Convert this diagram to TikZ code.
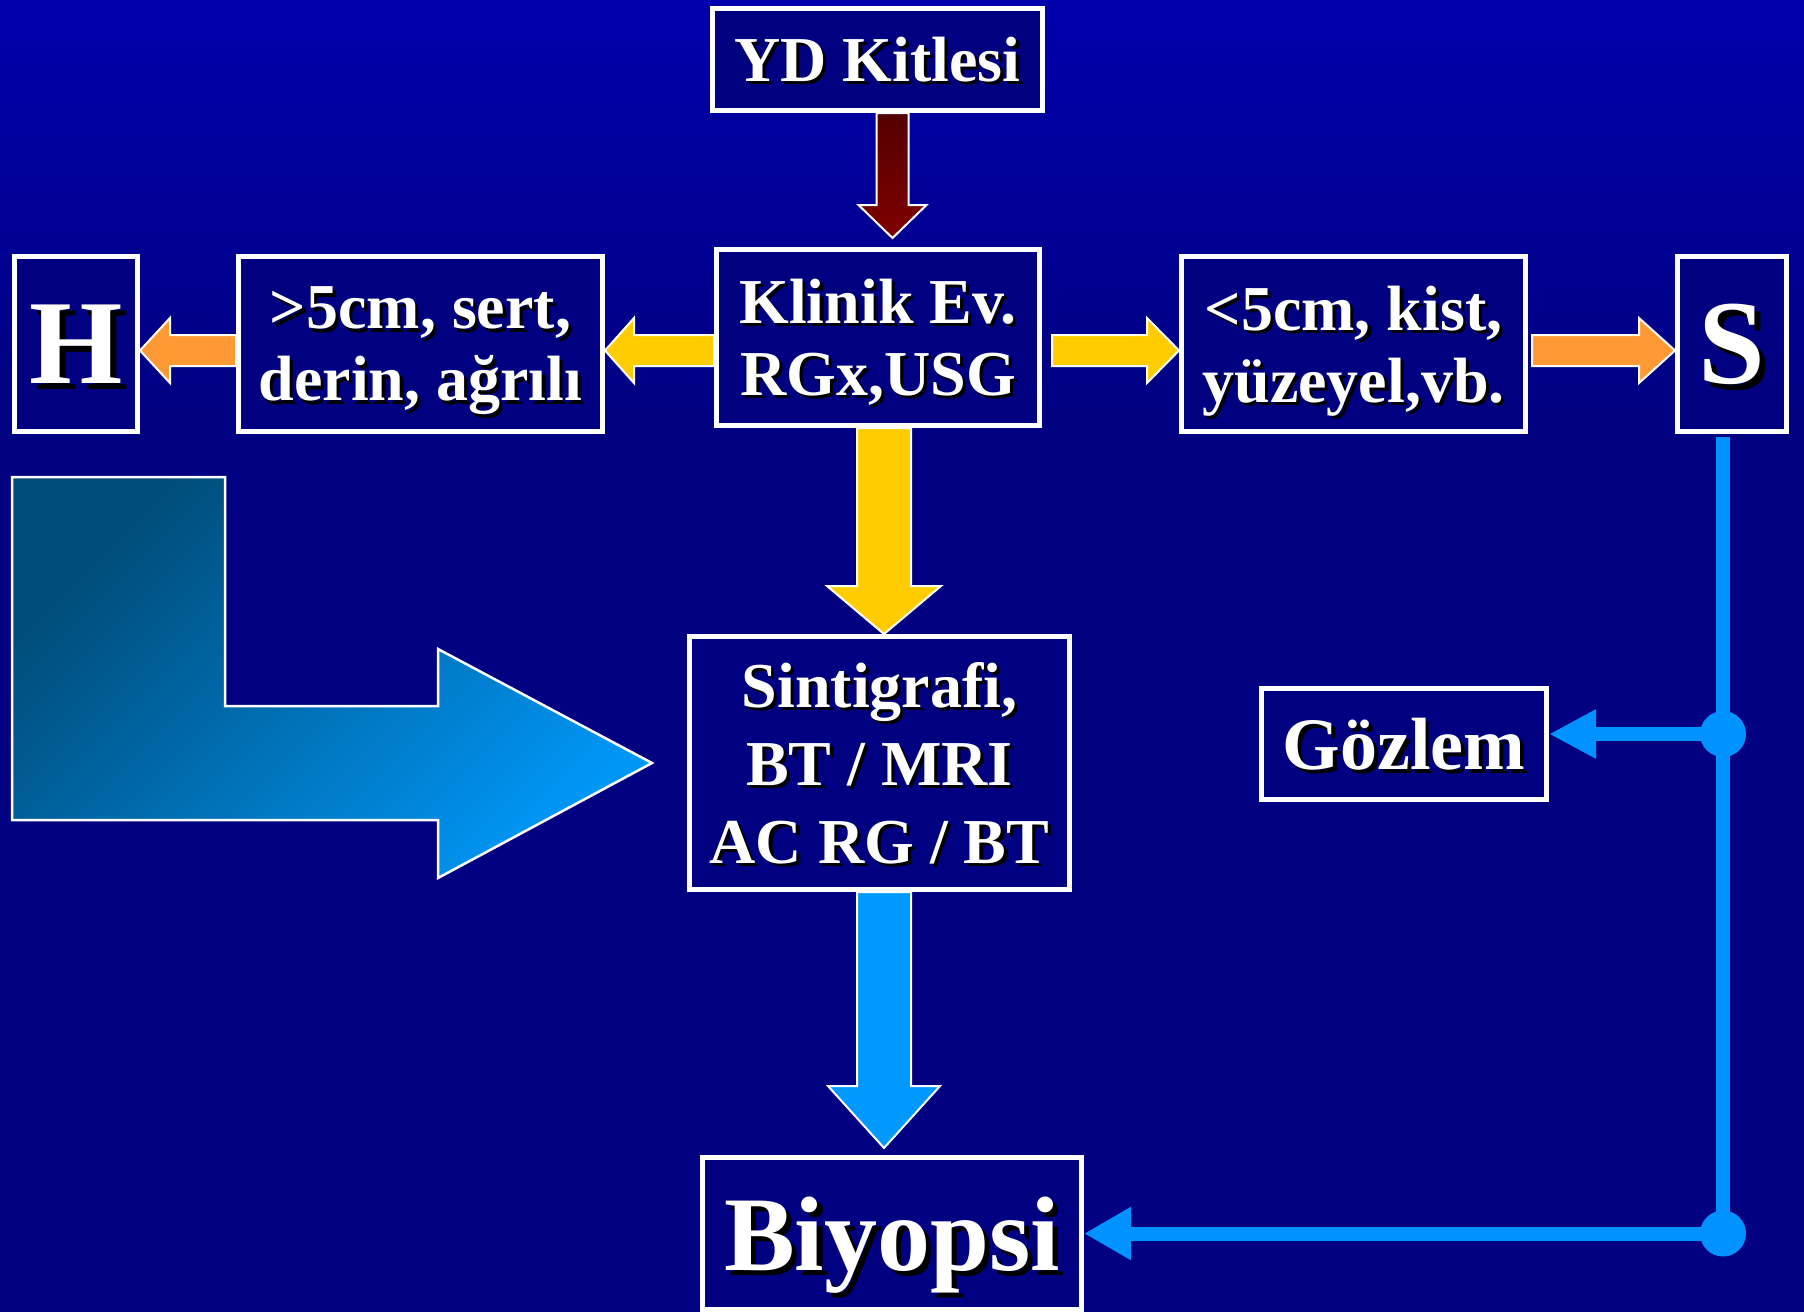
\documentclass[tikz,border=0pt]{standalone}
\usepackage{fontspec}
\setmainfont{Liberation Serif}
\usetikzlibrary{arrows.meta,calc,positioning}

\definecolor{bgnavy}{RGB}{0,0,128}
\definecolor{bgtop}{RGB}{0,0,172}
\definecolor{arryellow}{RGB}{255,204,0}
\definecolor{arrorange}{RGB}{255,153,51}
\definecolor{arrblue}{RGB}{0,153,255}
\definecolor{linkblue}{RGB}{0,146,255}
\definecolor{reddark}{RGB}{84,0,0}
\definecolor{redlight}{RGB}{128,0,0}
\definecolor{ldark}{RGB}{0,76,120}
\definecolor{lmid}{RGB}{0,118,200}
\definecolor{lbright}{RGB}{0,150,245}

% white text with a small dark shadow
\newcommand\shd[1]{\makebox[0pt][l]{\hspace*{.05em}\raisebox{-.05em}{\color{black}#1}}#1}

% block arrow: style, from, to, shaft half width, head half width, head length
\newcommand\blockarrow[6]{%
  \coordinate (ba-h) at ($(#3)!#6pt!(#2)$);
  \path[#1] ($(#2)!#4pt!90:(#3)$) -- ($(ba-h)!#4pt!90:(#3)$) -- ($(ba-h)!#5pt!90:(#3)$) -- (#3)
    -- ($(ba-h)!#5pt!-90:(#3)$) -- ($(ba-h)!#4pt!-90:(#3)$) -- ($(#2)!#4pt!-90:(#3)$) -- cycle;}

\begin{document}
\begin{tikzpicture}[x=1pt, y=-1pt,
    box/.style={draw=white, line width=5pt, fill=bgnavy, text=white, align=center, inner sep=0pt, text depth=0pt},
    t60/.style={font=\bfseries\fontsize{64pt}{72pt}\selectfont},
    t64/.style={font=\bfseries\fontsize{64pt}{78pt}\selectfont},
    t118/.style={font=\bfseries\fontsize{120pt}{122pt}\selectfont},
    barrow/.style={draw=white, line width=2pt},
    link/.style={draw=linkblue, line width=14pt}]
  \useasboundingbox (0,0) rectangle (1804,1312);
  \fill[bgnavy] (0,0) rectangle (1804,1312);
  \shade[top color=bgtop, bottom color=bgnavy] (0,0) rectangle (1804,420);

  \node[box, t60, minimum width=330pt, minimum height=102pt] (yd) at (877.5,59.5) {\shd{YD Kitlesi}};
  \node[box, t60, minimum width=323pt, minimum height=176pt] (klinik) at (878,337.5) {\shd{Klinik Ev.}\\\shd{RGx,USG}};
  \node[box, t60, minimum width=364pt, minimum height=175pt] (big) at (420.5,344) {\shd{>5cm, sert,}\\\shd{derin, ağrılı}};
  \node[box, t118, minimum width=123pt, minimum height=175pt] (H) at (76,344) {\shd{H}};
  \node[box, t60, minimum width=344pt, minimum height=175pt] (small) at (1353.5,344) {\shd{<5cm, kist,}\\\shd{yüzeyel,vb.}};
  \node[box, t118, minimum width=109pt, minimum height=175pt] (S) at (1732,344) {\shd{S}};
  \node[box, t64, minimum width=380pt, minimum height=253pt] (sint) at (879.5,763) {\shd{Sintigrafi,}\\\shd{BT / MRI}\\\shd{AC RG / BT}};
  \node[box, font=\bfseries\fontsize{74pt}{80pt}\selectfont, minimum width=285pt, minimum height=111pt] (gozlem) at (1404,744) {\shd{Gözlem}};
  \node[box, font=\bfseries\fontsize{106pt}{110pt}\selectfont, minimum width=379pt, minimum height=152pt] (biyopsi) at (892,1233.5) {\shd{Biyopsi}};

  % block arrows
  \coordinate (r1) at ([xshift=15pt]yd.south);
  \coordinate (r2) at ($(r1 |- klinik.north)+(0,-9)$);
  \blockarrow{barrow, top color=reddark, bottom color=redlight}{r1}{r2}{16}{34}{33}
  \coordinate (yl1) at ($(klinik.west)+(0,13)$);
  \coordinate (yl2) at (big.east |- yl1);
  \blockarrow{barrow, fill=arryellow}{yl1}{yl2}{15.5}{32.5}{29}
  \coordinate (ol1) at (big.west |- yl1);
  \coordinate (ol2) at (H.east |- yl1);
  \blockarrow{barrow, fill=arrorange}{ol1}{ol2}{15.5}{32.5}{30}
  \coordinate (yr1) at ($(klinik.east |- yl1)+(10,0)$);
  \coordinate (yr2) at (small.west |- yl1);
  \blockarrow{barrow, fill=arryellow}{yr1}{yr2}{15.5}{32.5}{32}
  \coordinate (or1) at ($(small.east |- yl1)+(4,0)$);
  \coordinate (or2) at (S.west |- yl1);
  \blockarrow{barrow, fill=arrorange}{or1}{or2}{15.5}{32.5}{36}
  \coordinate (yd1) at ($(klinik.south)+(6,0)$);
  \coordinate (yd2) at (yd1 |- sint.north);
  \blockarrow{barrow, fill=arryellow}{yd1}{yd2}{27}{57}{48}
  \coordinate (bd1) at (yd1 |- sint.south);
  \coordinate (bd2) at ($(yd1 |- biyopsi.north)+(0,-7)$);
  \blockarrow{barrow, fill=arrblue}{bd1}{bd2}{27}{56}{62}

  % bent arrow
  \draw[draw=white, line width=2.5pt, top color=ldark, middle color=lmid, bottom color=lbright, shading angle=45]
    (12,477) -- (225,477) -- (225,706) -- (438,706) -- (438,649) -- (652,763)
    -- (438,878) -- (438,820) -- (12,820) -- cycle;

  % blue lines from S
  \coordinate (s1) at ([xshift=-9pt,yshift=-3pt]S.south);
  \path ([yshift=10pt]gozlem.east) coordinate (g1);
  \draw[link] (s1) -- (s1 |- biyopsi.east);
  \draw[link, -{Triangle[length=47pt, width=46pt]}] (s1 |- g1) -- (g1);
  \draw[link, -{Triangle[length=47pt, width=50pt]}] (s1 |- biyopsi.east) -- (biyopsi.east);
  \fill[linkblue] (s1 |- g1) circle (23pt) (s1 |- biyopsi.east) circle (23pt);
\end{tikzpicture}
\end{document}
